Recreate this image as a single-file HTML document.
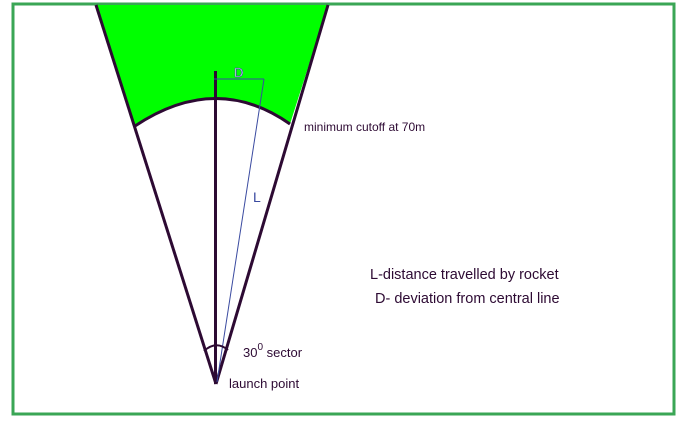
<!DOCTYPE html>
<html><head><meta charset="utf-8"><style>
html,body{margin:0;padding:0;background:#fff;}
svg{display:block;font-family:"Liberation Sans",sans-serif;}
</style></head><body>
<svg width="684" height="422" viewBox="0 0 684 422">
<rect x="13" y="4" width="661" height="410" fill="#fff" stroke="#3aa655" stroke-width="3"/>
<path d="M96,5 L328,5 L290,124 Q216,72 135,126 Z" fill="#00ff00"/>
<path d="M135,126 Q216,72 290,124" fill="none" stroke="#2d0a33" stroke-width="3"/>
<line x1="96" y1="5" x2="216" y2="384" stroke="#2d0a33" stroke-width="3"/>
<line x1="328" y1="5" x2="216" y2="384" stroke="#2d0a33" stroke-width="3"/>
<line x1="215.5" y1="71" x2="215.5" y2="384" stroke="#2d0a33" stroke-width="3"/>
<line x1="214" y1="79" x2="264" y2="79" stroke="#3a4aa0" stroke-width="1"/>
<line x1="264" y1="79" x2="217" y2="382" stroke="#3a4aa0" stroke-width="1"/>
<path d="M204,351 Q216,340 228,350" fill="none" stroke="#2d0a33" stroke-width="2"/>
<text x="234" y="77" font-size="13" fill="#fff" stroke="#3a4aa0" stroke-width="0.6">D</text>
<text x="253" y="202" font-size="14" fill="#3a4aa0">L</text>
<text x="304" y="131" font-size="12" fill="#2d0a33">minimum cutoff at 70m</text>
<text x="243" y="357" font-size="13" fill="#2d0a33">30<tspan font-size="10" dy="-7">0</tspan><tspan dy="7"> sector</tspan></text>
<text x="229" y="388" font-size="13" fill="#2d0a33">launch point</text>
<text x="370" y="279" font-size="14.5" fill="#2d0a33">L-distance travelled by rocket</text>
<text x="375" y="303" font-size="14.5" fill="#2d0a33">D- deviation from central line</text>
</svg>
</body></html>
